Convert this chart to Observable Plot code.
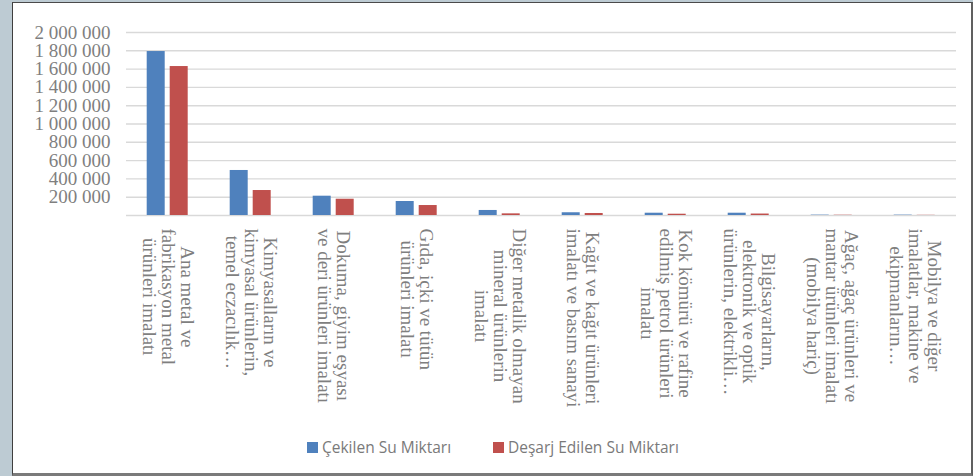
<!DOCTYPE html>
<html><head><meta charset="utf-8">
<script src="https://cdn.jsdelivr.net/npm/d3@7"></script>
<script src="https://cdn.jsdelivr.net/npm/@observablehq/plot@0.6"></script>
<style>
html,body{margin:0;padding:0;}
body{width:973px;height:476px;background:#bdcbd3;position:relative;overflow:hidden;}
#frame{position:absolute;left:12px;top:2px;width:957.5px;height:470px;background:#fff;border-left:1.5px solid #3f3f3f;border-top:1px solid #4a4a4a;border-right:2px solid #606060;border-bottom:3px solid #7a7a7a;}
#chart{position:absolute;left:0;top:0;}
.legend{position:absolute;top:436px;font-family:"Open Sans";font-size:15.5px;color:#7a7a7a;display:flex;align-items:center;white-space:nowrap;}
.sw{width:11px;height:11px;margin-right:4px;}
</style></head>
<body>
<div id="frame"></div>
<div id="chart"></div>
<div id="legend"></div>
<script>
const categories = [
  "Ana metal ve\nfabrikasyon metal\nürünleri imalatı",
  "Kimyasalların ve\nkimyasal ürünlerin,\ntemel eczacılık…",
  "Dokuma, giyim eşyası\nve deri ürünleri imalatı",
  "Gıda, içki ve tütün\nürünleri imalatı",
  "Diğer metalik olmayan\nmineral ürünlerin\nimalatı",
  "Kağıt ve kağıt ürünleri\nimalatı ve basım sanayi",
  "Kok kömürü ve rafine\nedilmiş petrol ürünleri\nimalatı",
  "Bilgisayarların,\nelektronik ve optik\nürünlerin, elektrikli…",
  "Ağaç, ağaç ürünleri ve\nmantar ürünleri imalatı\n(mobilya hariç)",
  "Mobilya ve diğer\nimalatlar, makine ve\nekipmanların…"
];
const cekilen = [1792000, 492000, 211000, 153000, 55000, 30000, 25000, 25000, 4000, 4000];
const desarj  = [1628000, 273000, 178000, 109000, 18000, 22000, 14000, 16000, 3000, 2000];
const seriesNames = ["Çekilen Su Miktarı", "Deşarj Edilen Su Miktarı"];
const seriesColors = ["#4f81bd", "#c0504d"];
const yTicks = [0, 200000, 400000, 600000, 800000, 1000000, 1200000, 1400000, 1600000, 1800000, 2000000];
const yTickLabels = ["", "200 000", "400 000", "600 000", "800 000", "1 000 000", "1 200 000", "1 400 000", "1 600 000", "1 800 000", "2 000 000"];

const data = categories.flatMap((c, i) => [
  {cat: c, series: seriesNames[0], value: cekilen[i]},
  {cat: c, series: seriesNames[1], value: desarj[i]}
]);

const labelFont = "19px 'Liberation Serif'";
const ctx = document.createElement("canvas").getContext("2d");
ctx.font = labelFont;

const H = 440;
const chart = Plot.plot({
  width: 973,
  height: H,
  marginLeft: 124.3,
  marginRight: 15.5,
  marginTop: 32,
  marginBottom: H - 215,
  style: {background: "transparent", overflow: "visible"},
  fx: {domain: categories, padding: 0, axis: null, label: null},
  x: {domain: seriesNames, paddingInner: 0.213, paddingOuter: 0.879, axis: null},
  y: {domain: [0, 2000000], axis: null},
  color: {domain: seriesNames, range: seriesColors},
  marks: [
    Plot.ruleY(yTicks, {stroke: "#d9d9d9", strokeWidth: 1.4}),
    Plot.barY(data, {fx: "cat", x: "series", y: "value", fill: "series"}),
    Plot.axisY(yTicks, {
      tickSize: 0, tickPadding: 16, label: null,
      tickFormat: d => yTickLabels[yTicks.indexOf(d)],
      fontSize: 19, fontFamily: "Liberation Serif", fill: "#7f7f7f"
    }),
    Plot.text(categories, {
      fx: d => d, text: d => d,
      frameAnchor: "bottom", dy: 13, rotate: 90,
      textAnchor: "middle", lineAnchor: "middle", lineHeight: 1.0,
      fontSize: 19, fontFamily: "Liberation Serif", fill: "#7f7f7f",
      render(index, scales, values, dimensions, context, next) {
        const g = next(index, scales, values, dimensions, context);
        d3.select(g).selectAll("text").each(function() {
          const spans = this.querySelectorAll("tspan");
          const lines = spans.length ? Array.from(spans, s => s.textContent) : [this.textContent];
          const w = d3.max(lines, l => ctx.measureText(l).width);
          const t = this.getAttribute("transform") || "";
          this.setAttribute("transform", t + ` translate(${w / 2},0)`);
        });
        return g;
      }
    })
  ]
});
document.getElementById("chart").appendChild(chart);

const legend = document.getElementById("legend");
const legendLefts = [307, 493];
seriesNames.forEach((s, i) => {
  const item = document.createElement("div");
  item.className = "legend";
  item.style.left = legendLefts[i] + "px";
  item.innerHTML = `<div class="sw" style="background:${seriesColors[i]}"></div><span>${s}</span>`;
  legend.appendChild(item);
});
</script>
</body></html>
